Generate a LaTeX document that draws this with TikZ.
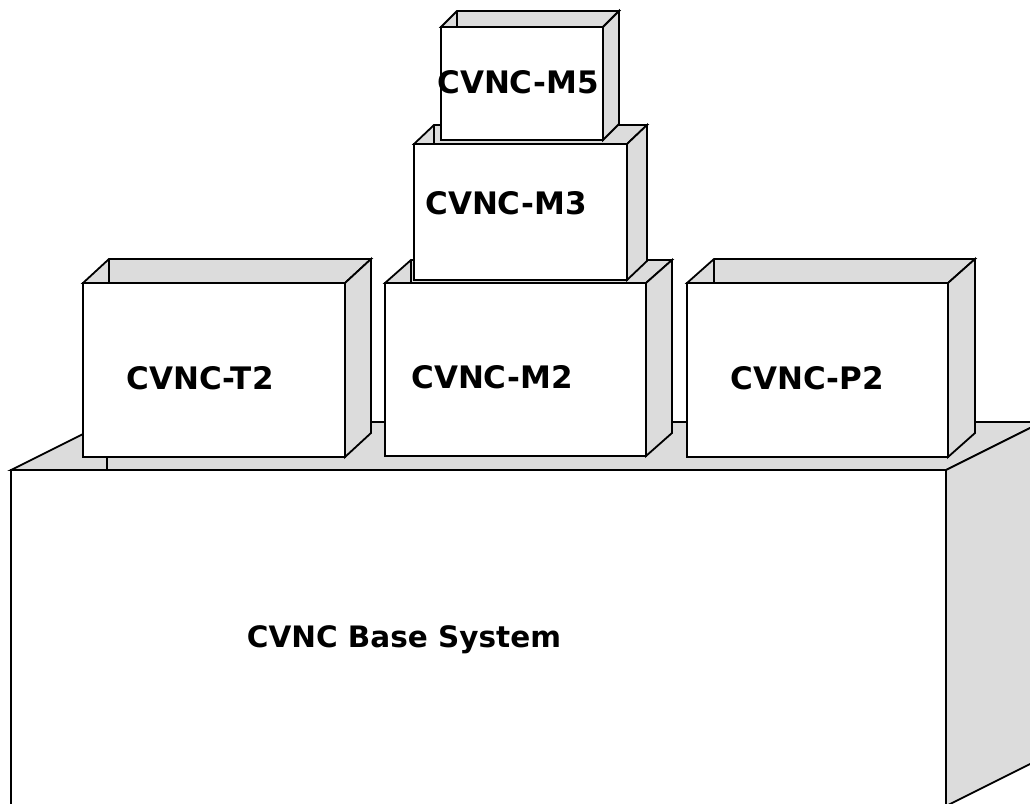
\documentclass[tikz,border=0pt]{standalone}
\usepackage{fontspec}
\newfontfamily\lblfont{DejaVu Sans}
\definecolor{shade}{RGB}{220,220,220}
\tikzset{
  edge/.style={draw=black, line width=1.8pt, line join=miter},
  side/.style={edge, fill=shade},
  face/.style={edge, fill=white},
  lbl/.style={font=\lblfont\bfseries\fontsize{31}{31}\selectfont, inner sep=0pt, text=black},
  baselbl/.style={lbl, font=\lblfont\bfseries\fontsize{29.5}{29.5}\selectfont}
}
% open box: left, top, right, bottom, dx, dy, name
\newcommand\openbox[7]{%
  \filldraw[side] (#1,#2) -- ({#1+#5},{#2+#6}) -- ({#3+#5},{#2+#6}) -- (#3,#2) -- cycle;
  \draw[edge] ({#1+#5},{#2+#6}) -- ({#1+#5},#2);
  \filldraw[side] (#3,#2) -- ({#3+#5},{#2+#6}) -- ({#3+#5},{#4+#6}) -- (#3,#4) -- cycle;
  \filldraw[face] (#1,#2) rectangle (#3,#4);
  \coordinate (#7) at ({(#1+#3)/2},{(#2+#4)/2});
}
\begin{document}
\begin{tikzpicture}[x=1pt,y=-1pt]
\useasboundingbox (0,0) rectangle (1030,803);
\clip (0,0) rectangle (1030,803);
\fill[white] (0,0) rectangle (1030,803);
% base system
\filldraw[side] (11,470) -- (107,422) -- (1042,422) -- (946,470) -- cycle;
\draw[edge] (107,422) -- (107,470);
\filldraw[side] (946,470) -- (1042,422) -- (1042,758) -- (946,806) -- cycle;
\filldraw[face] (11,470) rectangle (946,806);
\node[baselbl] (base) at (404,640) {CVNC Base System};
% modules
\openbox{83}{283}{345}{457}{26}{-24}{t2}
\node[lbl] (t2l) at (200,378) {CVNC-T2};
\openbox{687}{283}{948}{457}{27}{-24}{p2}
\node[lbl] (p2l) at (807,378) {CVNC-P2};
\openbox{385}{283}{646}{456}{26}{-23}{m2}
\node[lbl] (m2l) at (492,377) {CVNC-M2};
\openbox{414}{144}{627}{280}{20}{-19}{m3}
\node[lbl] (m3l) at (506,203) {CVNC-M3};
\openbox{441}{27}{603}{140}{16}{-16}{m5}
\node[lbl] (m5l) at (518,82) {CVNC-M5};
\end{tikzpicture}
\end{document}
